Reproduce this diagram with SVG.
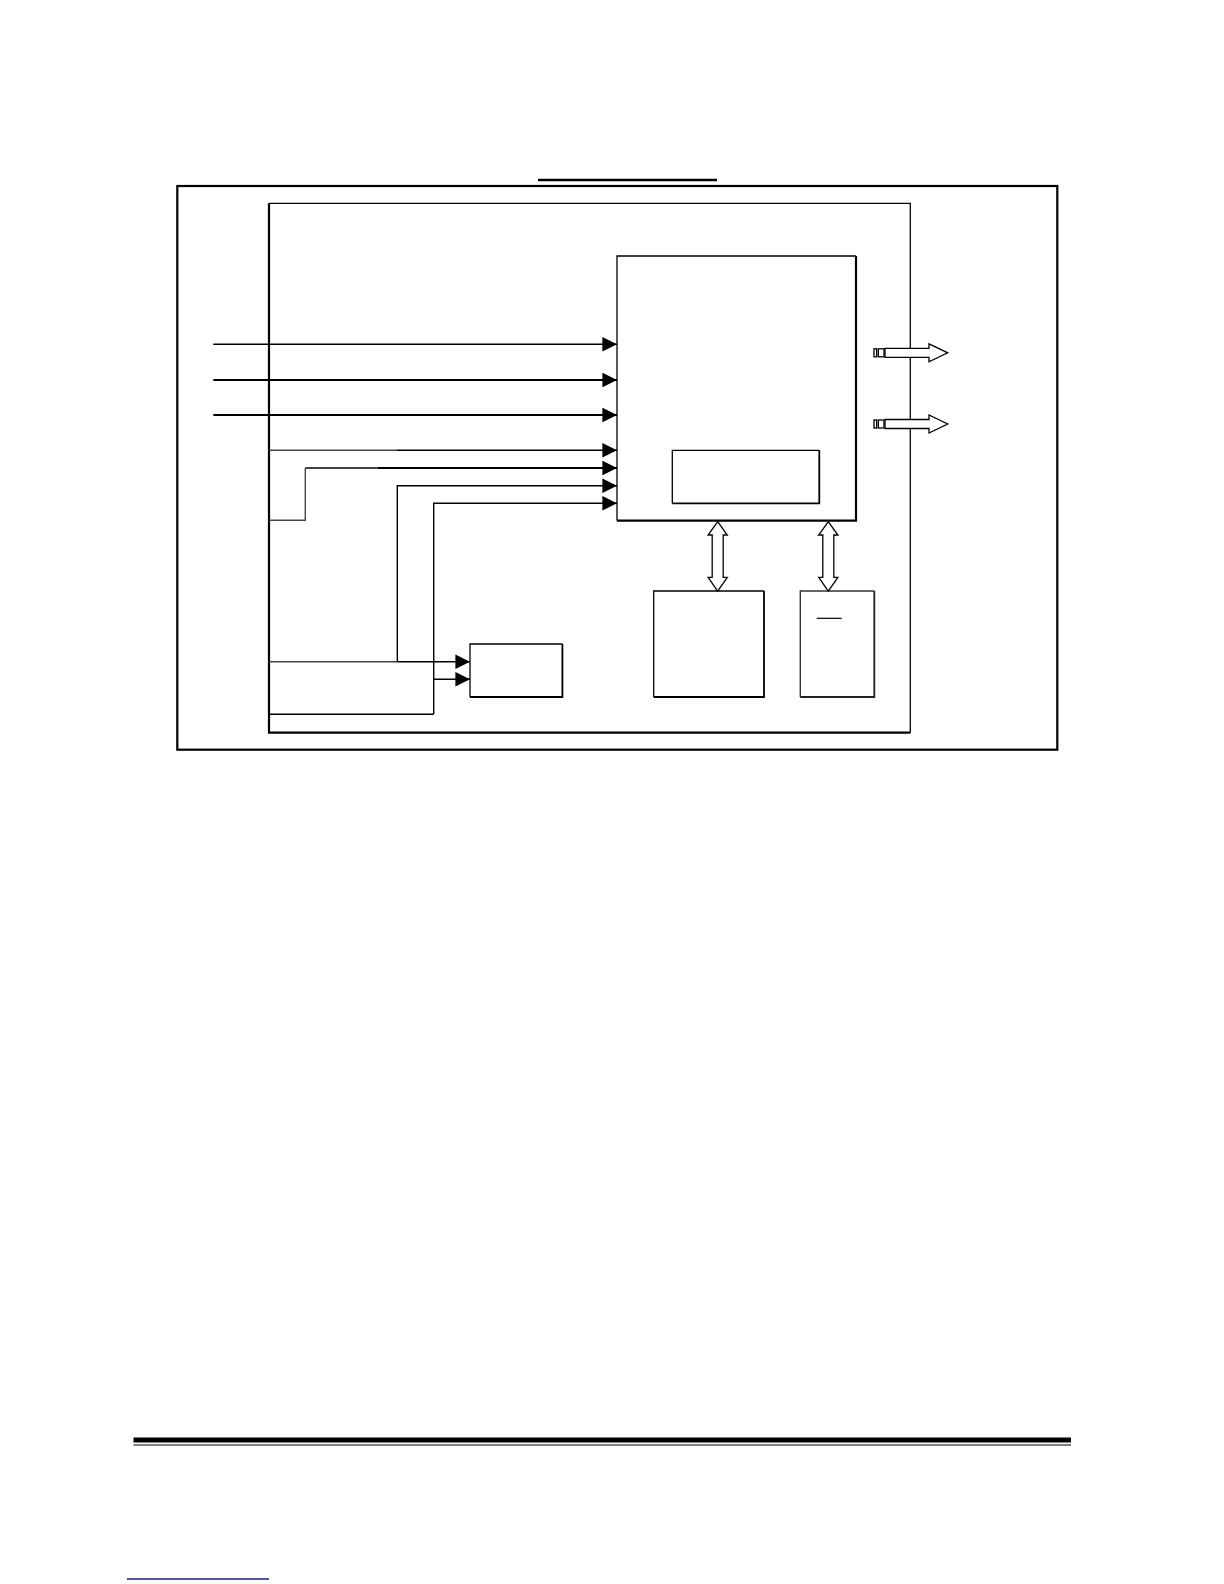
<svg xmlns="http://www.w3.org/2000/svg" xmlns:xlink="http://www.w3.org/1999/xlink" width="1224" height="1584" viewBox="0 0 1224 1584">
  <style>
    .thick { fill: none; stroke: #000; stroke-width: 2.2; }
    .thin { fill: none; stroke: #000; stroke-width: 1.3; }
    .wire { fill: none; stroke: #000; stroke-width: 1.4; }
    .wire2 { fill: none; stroke: #000; stroke-width: 2.2; }
    .edge { fill: none; stroke: #000; stroke-width: 1.8; }
    .grey { fill: none; stroke: #444; stroke-width: 1.4; }
    .hollow { fill: #fff; stroke: #000; stroke-width: 1.3; stroke-linejoin: miter; }
  </style>
  <defs>
    <marker id="ah" viewBox="0 0 15 15" refX="15" refY="7.5" markerWidth="15" markerHeight="14.6" markerUnits="userSpaceOnUse" orient="auto">
      <path d="M0,0 L15,7.5 L0,15 z" fill="#000"/>
    </marker>
    <g id="outArrow">
      <rect x="874" y="-4" width="2.7" height="8" class="hollow"/>
      <rect x="878.3" y="-4" width="5.7" height="8" class="hollow"/>
      <path d="M885,-4.5 L929,-4.5 L929,-9 L947.7,0 L929,9 L929,4.5 L885,4.5 z" class="hollow"/>
    </g>
    <path id="dblArrow" d="M0,0 L9.6,13.3 L5.5,13.3 L5.5,55.7 L9.6,55.7 L0,69.3 L-9.6,55.7 L-5.5,55.7 L-5.5,13.3 L-9.6,13.3 z" class="hollow"/>
  </defs>
  <rect width="1224" height="1584" fill="#fff"/>

  <g id="title-rule">
    <line x1="538" y1="180" x2="717" y2="180" stroke="#000" stroke-width="2.3"/>
  </g>

  <g id="outer-frame">
    <rect x="177.3" y="186" width="880" height="563.7" class="thick"/>
  </g>

  <g id="inner-frame">
    <path d="M269,203.3 L910.3,203.3 L910.3,732.7" class="thin"/>
    <path d="M269,203.3 L269,732.7 L910.3,732.7" class="thick"/>
  </g>

  <g id="main-block">
    <path d="M617,520.7 L617,256 L856,256" class="thin"/>
    <path d="M856,256 L856,520.7 L617,520.7" class="thick"/>
  </g>

  <g id="sub-block">
    <path d="M672.3,503.3 L672.3,450.3 L819.3,450.3" class="thin"/>
    <path d="M819.3,450.3 L819.3,503.3 L672.3,503.3" class="edge"/>
  </g>

  <g id="small-box">
    <path d="M470,697 L470,644 L562.4,644" class="thin"/>
    <path d="M562.4,644 L562.4,697 L470,697" class="edge"/>
  </g>

  <g id="box-a">
    <path d="M653.7,697 L653.7,591 L764,591" class="thin"/>
    <path d="M764,591 L764,697 L653.7,697" class="edge"/>
  </g>

  <g id="box-b">
    <path d="M800.3,697 L800.3,591 L874.3,591" fill="none" stroke="#333" stroke-width="1.4"/>
    <path d="M874.3,591 L874.3,697 L800.3,697" fill="none" stroke="#222" stroke-width="1.8"/>
    <line x1="816.7" y1="618.3" x2="841.7" y2="618.3" stroke="#000" stroke-width="1.2"/>
  </g>

  <g id="connectors">
    <path d="M213.3,344.3 L617,344.3" class="wire" marker-end="url(#ah)"/>
    <path d="M213.3,380 L617,380" class="wire2" marker-end="url(#ah)"/>
    <path d="M213.3,415 L617,415" class="wire2" marker-end="url(#ah)"/>
    <path d="M269,450.3 L397,450.3" class="grey"/>
    <path d="M397,450.3 L617,450.3" class="wire" marker-end="url(#ah)"/>
    <path d="M269,520.3 L305.3,520.3 L305.3,468" class="grey"/>
    <path d="M305.3,468 L378,468" class="grey" style="stroke-width:2"/>
    <path d="M378,468 L617,468" class="wire2" marker-end="url(#ah)"/>
    <path d="M397.3,661.7 L397.3,485.7 L617,485.7" class="wire" marker-end="url(#ah)"/>
    <path d="M433.7,714.3 L433.7,503.3 L617,503.3" class="wire" marker-end="url(#ah)"/>
    <path d="M269,661.7 L397.3,661.7" class="grey"/>
    <path d="M397.3,661.7 L470,661.7" class="wire" marker-end="url(#ah)"/>
    <path d="M433.7,679.3 L470,679.3" class="wire" marker-end="url(#ah)"/>
    <path d="M269,714.3 L433.7,714.3" class="wire"/>
    <use xlink:href="#outArrow" href="#outArrow" transform="translate(0,352.8)"/>
    <use xlink:href="#outArrow" href="#outArrow" transform="translate(0,424)"/>
    <use xlink:href="#dblArrow" href="#dblArrow" transform="translate(717.7,521.7)"/>
    <use xlink:href="#dblArrow" href="#dblArrow" transform="translate(828.3,521.7)"/>
  </g>

  <g id="footer-rule">
    <rect x="133.5" y="1437.5" width="937.5" height="5" fill="#000"/>
    <line x1="133.5" y1="1445" x2="1071" y2="1445" stroke="#000" stroke-width="1.2"/>
    <line x1="127" y1="1579" x2="269" y2="1579" stroke="#1a1a8a" stroke-width="1.5"/>
  </g>
</svg>
